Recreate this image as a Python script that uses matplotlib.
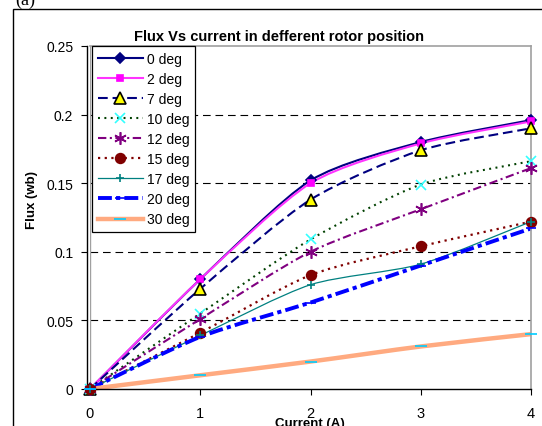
import numpy as np
import matplotlib
matplotlib.use('Agg')
import matplotlib.pyplot as plt
from matplotlib.path import Path
from matplotlib.patches import PathPatch, Rectangle
from matplotlib.lines import Line2D

plt.rcParams['font.family'] = ['Liberation Sans', 'DejaVu Sans']
plt.rcParams['lines.scale_dashes'] = False

# Дані: струм (А) та потік (Вб) для кожного положення ротора
current = [0, 1, 2, 3, 4]
labels = ['0 deg', '2 deg', '7 deg', '10 deg', '12 deg', '15 deg', '17 deg', '20 deg', '30 deg']
flux_0 = [0, 0.080, 0.152, 0.180, 0.196]
flux_2 = [0, 0.080, 0.150, 0.179, 0.195]
flux_7 = [0, 0.073, 0.138, 0.174, 0.190]
flux_10 = [0, 0.055, 0.109, 0.149, 0.166]
flux_12 = [0, 0.051, 0.100, 0.131, 0.161]
flux_15 = [0, 0.041, 0.083, 0.104, 0.122]
flux_17 = [0, 0.039, 0.076, 0.091, 0.122]
flux_20 = [0, 0.038, 0.063, 0.090, 0.117]
flux_30 = [0, 0.010, 0.020, 0.031, 0.040]
series = [flux_0, flux_2, flux_7, flux_10, flux_12, flux_15, flux_17, flux_20, flux_30]

# Стилі: колір лінії, товщина, штрих, маркер, розмір, заливка, обведення
styles = [
    dict(c='#000080', lw=1.5, ls='-', m='D', ms=5.5, mfc='#000080', mec='#000080'),
    dict(c='#FF33FF', lw=1.5, ls='-', m='s', ms=5, mfc='#FF00FF', mec='#FF00FF'),
    dict(c='#000080', lw=1.5, ls=(0, (7, 3.5)), m='^', ms=8, mfc='#FFFF00', mec='black'),
    dict(c='#004000', lw=1.5, ls=(0, (1.4, 3.2)), m='x', ms=7, mfc='#00FFFF', mec='#33FFFF'),
    dict(c='#800080', lw=1.5, ls=(0, (6, 2.5, 1.5, 2.5)), m=(6, 2, 0), ms=9, mfc='#800080', mec='#800080'),
    dict(c='#800000', lw=1.6, ls=(0, (1.6, 3.2)), m='o', ms=7, mfc='#800000', mec='#800000'),
    dict(c='#008080', lw=0.9, ls='-', m='+', ms=6, mfc='#008080', mec='#008080'),
    dict(c='#0000FF', lw=2.8, ls=(0, (10, 3, 3, 3)), m='_', ms=7, mfc='#0000FF', mec='#0000FF'),
    dict(c='#FFAA80', lw=3.2, ls='-', m='_', ms=9, mfc='#00CCFF', mec='#00CCFF'),
]


# Згладжена лінія через точки (кубічні криві Безьє)
def smooth_path(xs, ys, k=1 / 8):
    pts = np.column_stack([xs, ys]).astype(float)
    n = len(pts)
    verts = [pts[0]]
    codes = [Path.MOVETO]
    for i in range(n - 1):
        p0 = pts[i - 1] if i > 0 else pts[i]
        p1 = pts[i]
        p2 = pts[i + 1]
        p3 = pts[i + 2] if i + 2 < n else pts[i + 1]
        verts += [p1 + (p2 - p0) * k, p2 - (p3 - p1) * k, p2]
        codes += [Path.CURVE4] * 3
    return Path(verts, codes)


fig = plt.figure(figsize=(5.42, 4.27), dpi=100)
ax = fig.add_axes([90 / 542, 37 / 427, 441 / 542, 343 / 427])

for y in [0.05, 0.1, 0.15, 0.2]:
    ax.axhline(y, color='black', lw=0.8, ls=(0, (5.5, 3.5)), zorder=1)
ax.axvline(0, color='#A0A0A0', lw=1.0, zorder=1.5)

handles = []
for vals, st, lab in zip(series, styles, labels):
    patch = PathPatch(smooth_path(current, vals), fill=False, edgecolor=st['c'],
                      lw=st['lw'], linestyle=st['ls'], zorder=2, clip_on=False)
    ax.add_patch(patch)
    ax.plot(current, vals, ls='none', marker=st['m'], ms=st['ms'], mfc=st['mfc'],
            mec=st['mec'], mew=1.2, zorder=3, clip_on=False)
    handles.append(Line2D([], [], color=st['c'], lw=st['lw'], ls=st['ls'], marker=st['m'],
                          ms=st['ms'], mfc=st['mfc'], mec=st['mec'], mew=1.2))

ax.set_xlim(0, 4)
ax.set_ylim(0, 0.25)
ax.set_xticks(current)
ax.set_xticklabels(['0', '1', '2', '3', '4'], fontsize=10.5)
ax.set_yticks([0, 0.05, 0.1, 0.15, 0.2, 0.25])
ax.set_yticklabels(['0', '0.05', '0.1', '0.15', '0.2', '0.25'], fontsize=10.5)
ax.tick_params(axis='both', direction='out', length=4, width=0.8, color='black')
ax.tick_params(axis='x', pad=8)
ax.tick_params(axis='y', pad=6)
for s in ['top', 'right']:
    ax.spines[s].set_color('#A0A0A0')
    ax.spines[s].set_linewidth(1.2)
for s in ['left', 'bottom']:
    ax.spines[s].set_color('black')
    ax.spines[s].set_linewidth(1.0)
ax.spines['left'].set_position(('outward', 2))

leg = ax.legend(handles, labels, loc='upper left', bbox_to_anchor=(2 / 441, 1.0),
                fontsize=10, frameon=True, fancybox=False, edgecolor='black',
                handlelength=3.3, handletextpad=0.25, labelspacing=0.44,
                borderpad=0.4, borderaxespad=0, framealpha=1)
leg.get_frame().set_linewidth(0.9)

fig.text(279 / 542, 1 - 37 / 427, 'Flux Vs current in defferent rotor position',
         fontsize=10.5, fontweight='bold', ha='center', va='center')
fig.text(310 / 542, 1 - 424 / 427, 'Current (A)', fontsize=9.5, fontweight='bold',
         ha='center', va='center')
fig.text(32 / 542, 1 - 200 / 427, 'Flux (wb)', fontsize=9.5, fontweight='bold',
         rotation=90, ha='center', va='center')
fig.text(15 / 542, 1.0, '(a)', fontsize=13, family='Liberation Serif', ha='left', va='center')

fig.patches.append(Rectangle((13 / 542, -0.2), 1.2, 1.2 - 10 / 427, transform=fig.transFigure,
                             fill=False, edgecolor='black', lw=1.0))

fig.savefig('out.png', dpi=100)
